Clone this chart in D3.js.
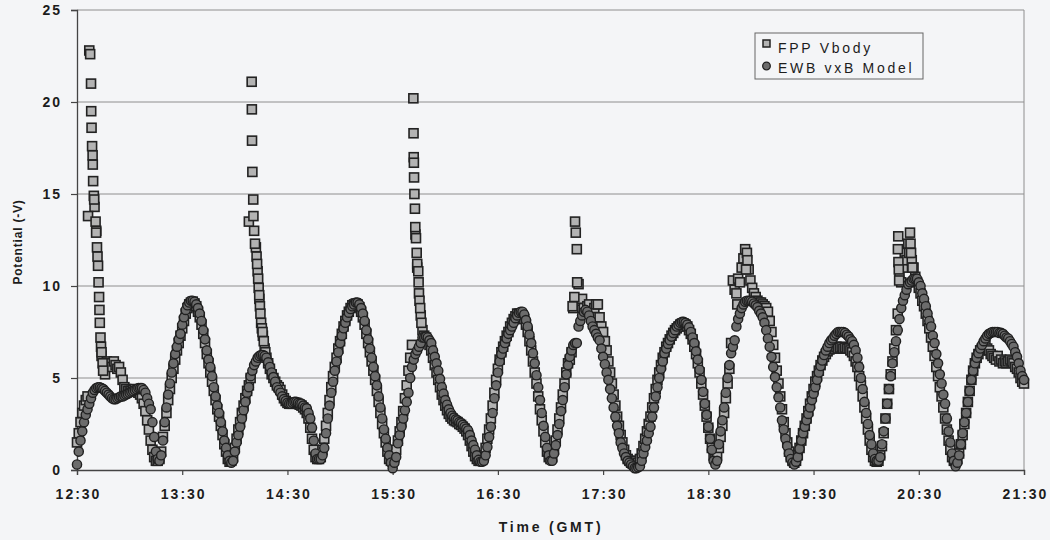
<!DOCTYPE html>
<html>
<head>
<meta charset="utf-8">
<script src="https://cdn.jsdelivr.net/npm/d3@7"></script>
<style>
  html, body { margin: 0; padding: 0; background: #f4f5f7; }
  svg { display: block; }
  text { font-family: "Liberation Sans", Arial, sans-serif; fill: #1c1c1c; }
</style>
</head>
<body>
<svg id="chart" width="1050" height="540"></svg>
<script>
// minutes after 12:30 GMT, one sample per minute
const tickMinutes = [0, 60, 120, 180, 240, 300, 360, 420, 480, 540]
const tickLabels = ['12:30', '13:30', '14:30', '15:30', '16:30', '17:30', '18:30', '19:30', '20:30', '21:30']
const yTicks = [0, 5, 10, 15, 20, 25]
const seriesNames = ['FPP Vbody', 'EWB vxB Model']

// EWB vxB Model, potential (-V)
const ewbValues = [
  0.3, 1.0, 1.6, 2.1, 2.6, 3.0, 3.3, 3.6, 3.9, 4.2,
  4.35, 4.45, 4.5, 4.5, 4.45, 4.4, 4.3, 4.2, 4.1, 4.0,
  3.9, 3.85, 3.85, 3.9, 3.95, 4.0, 4.0, 4.05, 4.1, 4.15,
  4.2, 4.25, 4.3, 4.35, 4.4, 4.45, 4.45, 4.45, 4.35, 4.2,
  3.9, 3.6, 3.3, 2.6, 1.8, 1.0, 0.6, 0.5, 0.8, 1.6,
  2.6, 3.4, 4.1, 4.7, 5.3, 5.8, 6.3, 6.7, 7.1, 7.4,
  7.9, 8.3, 8.7, 8.95, 9.1, 9.2, 9.2, 9.15, 9.0, 8.8,
  8.5, 8.1, 7.6, 7.1, 6.5, 6.0, 5.6, 5.1, 4.5, 4.0,
  3.5, 3.1, 2.6, 2.1, 1.6, 1.2, 0.8, 0.5, 0.4, 0.5,
  1.0, 1.5, 1.9, 2.35, 2.8, 3.25, 3.7, 4.2, 4.5, 5.1,
  5.4, 5.7, 5.9, 6.1, 6.2, 6.25, 6.25, 6.2, 6.1, 5.85,
  5.6, 5.3, 5.05, 4.8, 4.5, 4.35, 4.2, 4.0, 3.85, 3.75,
  3.65, 3.6, 3.6, 3.65, 3.7, 3.7, 3.65, 3.6, 3.6, 3.5,
  3.4, 3.35, 3.1, 2.8, 2.3, 1.6, 0.9, 0.6, 0.6, 0.6,
  0.8, 1.2, 2.0, 2.8, 3.5, 4.2, 4.8, 5.4, 5.9, 6.4,
  6.9, 7.3, 7.7, 8.0, 8.3, 8.55, 8.75, 8.9, 9.0, 9.1,
  9.1, 9.0, 8.8, 8.5, 8.1, 7.6, 7.1, 6.6, 6.1, 5.6,
  5.1, 4.6, 4.0, 3.4, 2.8, 2.2, 1.7, 1.2, 0.8, 0.4,
  0.1, 0.4, 0.7, 1.45, 1.9, 2.35, 2.8, 3.25, 3.7, 4.2,
  5.0, 5.6, 6.0, 6.3, 6.5, 6.7, 6.9, 7.2, 7.2, 7.25,
  7.2, 7.05, 6.9, 6.5, 6.15, 5.8, 5.4, 4.95, 4.5, 4.15,
  3.8, 3.55, 3.3, 3.1, 2.95, 2.85, 2.75, 2.7, 2.6, 2.55,
  2.45, 2.35, 2.25, 2.15, 1.9, 1.6, 1.35, 1.1, 0.8, 0.55,
  0.45, 0.45, 0.5, 0.8, 1.25, 1.8, 2.35, 3.1, 3.9, 4.6,
  5.3, 5.9, 6.3, 6.6, 6.9, 7.15, 7.4, 7.6, 7.8, 8.0,
  8.25, 8.4, 8.55, 8.6, 8.6, 8.45, 8.15, 7.8, 7.35, 6.9,
  6.35, 5.8, 5.15, 4.5, 3.8, 3.1, 2.4, 1.8, 1.2, 0.8,
  0.5, 0.5, 0.9, 1.35, 1.9, 2.5, 3.2, 3.8, 4.5, 5.2,
  5.7, 6.15, 6.5, 6.8, 6.9, 6.9, 7.8, 8.1, 8.4, 8.6,
  8.7, 8.6, 8.4, 8.1, 7.8, 7.6, 7.4, 7.2, 7.05, 6.6,
  6.15, 5.75, 5.3, 4.9, 4.4, 3.9, 3.4, 2.9, 2.4, 2.0,
  1.5, 1.2, 0.9, 0.7, 0.5, 0.4, 0.3, 0.2, 0.1, 0.1,
  0.15, 0.2, 0.5, 0.9, 1.25, 1.6, 2.0, 2.35, 2.9, 3.4,
  4.0, 4.5, 5.0, 5.5, 5.9, 6.35, 6.6, 6.85, 7.05, 7.25,
  7.45, 7.6, 7.8, 7.9, 8.0, 8.05, 8.05, 8.0, 7.9, 7.75,
  7.5, 7.2, 6.9, 6.45, 6.0, 5.45, 4.9, 4.25, 3.6, 3.0,
  2.35, 1.7, 1.1, 0.5, 0.3, 0.5, 1.4, 2.1, 2.7, 3.4,
  4.2, 5.0, 5.7, 6.35, 6.7, 7.05, 7.8, 8.2, 8.5, 8.8,
  9.0, 9.15, 9.2, 9.2, 9.2, 9.15, 9.05, 8.95, 8.85, 8.65,
  8.5, 8.3, 8.0, 7.6, 7.15, 6.7, 6.15, 5.6, 5.05, 4.5,
  3.95, 3.4, 2.7, 2.2, 1.7, 1.3, 0.9, 0.6, 0.4, 0.3,
  0.45, 0.7, 1.15, 1.6, 2.0, 2.35, 2.7, 3.05, 3.4, 3.8,
  4.15, 4.5, 4.9, 5.3, 5.65, 5.95, 6.25, 6.5, 6.7, 6.9,
  7.05, 7.15, 7.3, 7.4, 7.5, 7.5, 7.5, 7.5, 7.45, 7.35,
  7.25, 7.1, 7.0, 6.8, 6.5, 6.1, 5.6, 5.0, 4.4, 3.7,
  3.1, 2.5, 1.9, 1.4, 0.9, 0.6, 0.5, 0.5, 0.7, 1.4,
  2.1, 2.8, 3.6, 4.4, 5.1, 5.8, 6.4, 7.0, 7.6, 8.2,
  8.8, 9.2, 9.5, 9.8, 10.1, 10.2, 10.3, 10.4, 10.4, 10.4,
  10.2, 10.0, 9.6, 9.3, 8.9, 8.5, 8.1, 7.8, 7.3, 6.9,
  6.3, 5.8, 5.2, 4.7, 4.1, 3.6, 2.8, 2.1, 1.5, 0.9,
  0.5, 0.2, 0.4, 0.8, 1.4, 2.0, 2.6, 3.1, 3.7, 4.3,
  4.9, 5.4, 5.8, 6.1, 6.35, 6.6, 6.8, 7.0, 7.15, 7.3,
  7.4, 7.45, 7.5, 7.5, 7.5, 7.5, 7.45, 7.45, 7.4, 7.3,
  7.2, 7.15, 7.0, 6.85, 6.7, 6.4, 6.15, 5.8, 5.4, 5.1,
  4.9
]

// FPP Vbody, potential (-V)
const fppValues = [
  1.5, 2.0, 2.6, 3.1, 3.5, 3.8, 4.0, 22.8, 21.0, 16.6,
  14.3, 13.0, 11.1, 8.0, 6.2, 5.5, 5.2, 5.9, 5.7, 5.8,
  5.6, 5.9, 5.7, 5.5, 5.6, 5.3, 4.9, 4.5, 4.4, 4.3,
  4.3, 4.3, 4.35, 4.4, 4.3, 4.2, 4.1, 3.9, 3.6, 3.2,
  2.7, 2.2, 1.6, 1.1, 0.7, 0.5, 0.5, 0.6, 1.0, 1.8,
  2.4, 3.1, 3.8, 4.4, 5.0, 5.5, 6.0, 6.5, 6.9, 7.3,
  7.7, 8.1, 8.5, 8.8, 9.0, 9.1, 9.15, 9.05, 8.9, 8.6,
  8.3, 7.9, 7.4, 6.9, 6.3, 5.8, 5.3, 4.8, 4.3, 3.8,
  3.3, 2.9, 2.4, 1.9, 1.4, 1.0, 0.6, 0.45, 0.5, 0.7,
  1.2, 1.7, 2.2, 2.6, 3.1, 3.5, 3.9, 4.3, 4.6, 5.0,
  16.2, 13.0, 12.1, 10.8, 9.3, 8.0, 7.3, 6.6, 6.1, 5.8,
  5.5, 5.2, 5.0, 4.8, 4.6, 4.5, 4.35, 4.1, 3.9, 3.75,
  3.65, 3.6, 3.6, 3.6, 3.65, 3.65, 3.6, 3.55, 3.5, 3.4,
  3.3, 3.1, 2.8, 2.3, 1.7, 1.1, 0.7, 0.6, 0.6, 0.7,
  1.1, 1.7, 2.4, 3.1, 3.8, 4.5, 5.1, 5.6, 6.1, 6.6,
  7.0, 7.4, 7.8, 8.1, 8.4, 8.6, 8.8, 8.95, 9.0, 9.05,
  9.0, 8.85, 8.6, 8.3, 7.9, 7.4, 6.9, 6.4, 5.9, 5.4,
  4.9, 4.3, 3.7, 3.1, 2.5, 2.0, 1.5, 1.0, 0.6, 0.5,
  0.5, 0.7, 1.1, 1.6, 2.1, 2.6, 3.2, 3.9, 4.6, 5.4,
  6.1, 6.8, 17.0, 12.8, 11.0, 9.6, 8.4, 7.6, 7.3, 7.2,
  7.0, 6.8, 6.5, 6.1, 5.7, 5.3, 4.9, 4.5, 4.1, 3.8,
  3.5, 3.25, 3.05, 2.9, 2.8, 2.7, 2.65, 2.6, 2.5, 2.45,
  2.35, 2.25, 2.1, 1.9, 1.6, 1.3, 1.0, 0.75, 0.6, 0.5,
  0.5, 0.55, 0.8, 1.2, 1.7, 2.2, 2.8, 3.5, 4.2, 4.9,
  5.5, 6.0, 6.4, 6.7, 7.0, 7.3, 7.5, 7.8, 8.0, 8.2,
  8.35, 8.5, 8.5, 8.5, 8.4, 8.2, 7.9, 7.5, 7.0, 6.5,
  5.9, 5.3, 4.7, 4.0, 3.3, 2.7, 2.1, 1.5, 1.0, 0.7,
  0.6, 0.7, 1.1, 1.6, 2.2, 2.8, 3.4, 4.1, 4.7, 5.3,
  5.8, 6.0, 6.4, 8.8, 13.5, 12.0, 10.1, 9.2, 9.3, 8.8,
  8.5, 8.9, 9.0, 8.6, 8.5, 8.8, 9.0, 9.0, 8.3, 7.8,
  7.5, 7.0, 6.5, 5.9, 5.3, 4.7, 4.1, 3.5, 2.9, 2.4,
  1.9, 1.5, 1.1, 0.8, 0.6, 0.5, 0.4, 0.35, 0.4, 0.5,
  0.4, 0.6, 0.9, 1.3, 1.7, 2.1, 2.5, 2.9, 3.4, 3.9,
  4.4, 4.9, 5.3, 5.7, 6.1, 6.4, 6.7, 6.9, 7.1, 7.3,
  7.45, 7.6, 7.7, 7.8, 7.9, 7.95, 7.95, 7.9, 7.8, 7.6,
  7.4, 7.1, 6.7, 6.3, 5.8, 5.3, 4.7, 4.1, 3.5, 2.9,
  2.3, 1.7, 1.2, 0.8, 0.6, 0.8, 1.2, 1.8, 2.4, 3.1,
  3.9, 4.7, 5.5, 6.9, 10.3, 9.8, 9.6, 10.4, 10.2, 11.0,
  11.5, 12.0, 11.8, 10.9, 10.3, 9.9, 9.6, 9.4, 9.2, 9.1,
  9.1, 9.0, 8.9, 8.8, 8.6, 8.1, 7.5, 6.8, 6.1, 5.4,
  4.7, 4.0, 3.3, 2.6, 2.0, 1.5, 1.0, 0.7, 0.5, 0.4,
  0.5, 0.8, 1.2, 1.6, 2.0, 2.4, 2.8, 3.2, 3.6, 4.0,
  4.4, 4.8, 5.1, 5.4, 5.7, 5.95, 6.15, 6.3, 6.45, 6.55,
  6.6, 6.65, 6.6, 6.7, 6.6, 6.65, 6.7, 6.6, 6.65, 6.6,
  6.6, 6.5, 6.4, 6.2, 5.9, 5.6, 5.1, 4.6, 4.0, 3.4,
  2.8, 2.2, 1.6, 1.1, 0.7, 0.5, 0.45, 0.5, 0.8, 1.3,
  2.0, 2.8, 3.6, 4.4, 5.2, 5.9, 6.6, 7.6, 8.5, 10.5,
  10.2, 11.0, 11.8, 11.4, 12.3, 12.9, 11.4, 11.0, 10.5, 10.2,
  9.9, 9.6, 9.2, 8.9, 8.5, 8.1, 7.7, 7.2, 6.7, 6.2,
  5.6, 5.1, 4.5, 4.0, 3.4, 2.8, 2.2, 1.6, 1.1, 0.7,
  0.5, 0.5, 0.6, 0.9, 1.4, 1.9, 2.5, 3.1, 3.7, 4.3,
  4.9, 5.4, 5.8, 6.1, 6.3, 6.5, 6.6, 6.7, 6.8, 6.6,
  6.5, 6.3, 6.2, 6.1, 6.0, 6.2, 5.9, 6.0, 5.8, 5.9,
  5.8, 5.9, 6.0, 5.9, 5.8, 5.6, 5.5, 5.3, 5.0, 4.8,
  4.7
]

// extra FPP samples inside the fast spikes (minutes after 12:30, -V)
const fppExtraMinutes = [
  6.3, 7.5, 8.1, 8.3, 8.6, 8.9, 9.2, 9.6, 9.8, 10.6, 10.9, 11.4, 11.7, 12.3, 12.6, 12.8, 13.4, 13.7, 14.0, 14.6, 14.9,
  98.0, 99.6, 99.7, 99.8, 100.5, 100.6, 101.5, 102.4, 102.7, 103.3, 103.6, 103.9, 104.3, 104.6, 105.4, 105.8, 106.5, 107.4,
  191.8, 191.9, 192.1, 192.2, 192.4, 192.7, 192.9, 193.3, 193.7, 194.0, 194.6, 194.8, 195.3, 195.7, 196.4,
  282.6, 283.6, 284.4, 285.2,
  376.5, 381.5, 382.3,
  468.1, 468.3, 468.4, 468.6, 468.8, 474.5, 475.3, 475.6, 476.4
]
const fppExtraValues = [
  13.8, 22.6, 19.5, 18.6, 17.6, 17.1, 15.7, 14.9, 14.7, 13.5, 12.9, 12.1, 11.6, 10.2, 9.4, 8.7, 7.2, 6.7, 6.4, 5.8, 5.4,
  13.5, 21.1, 19.6, 17.9, 14.7, 13.8, 12.3, 11.6, 11.2, 10.4, 9.9, 9.5, 8.9, 8.5, 7.7, 7.5, 7.0, 6.4,
  20.2, 18.3, 16.7, 15.9, 15.0, 14.2, 13.2, 12.6, 11.8, 11.2, 10.8, 10.2, 9.2, 8.8, 8.0,
  8.9, 9.4, 12.9, 10.2,
  9.0, 10.9, 11.4,
  12.0, 12.7, 11.3, 10.9, 10.3, 11.8, 12.3, 11.8, 11.0
]

const margin = { top: 10, right: 26, bottom: 70, left: 77 }
const width = 1050
const height = 540
const plotLeft = margin.left
const plotRight = width - margin.right
const plotTop = margin.top
const plotBottom = height - margin.bottom

const xScale = d3.scaleLinear().domain([0, 540]).range([plotLeft, plotRight])
const yScale = d3.scaleLinear().domain([0, 25]).range([plotBottom, plotTop])

const svg = d3.select('#chart')

// gridlines
svg.append('g')
  .selectAll('line')
  .data(yTicks.filter(d => d > 0))
  .enter().append('line')
    .attr('x1', plotLeft)
    .attr('x2', plotRight)
    .attr('y1', d => yScale(d))
    .attr('y2', d => yScale(d))
    .attr('stroke', '#8e8e8e')
    .attr('stroke-width', 1)

svg.append('line')
  .attr('x1', plotRight).attr('x2', plotRight)
  .attr('y1', plotTop).attr('y2', plotBottom)
  .attr('stroke', '#8e8e8e')

// axes
const yAxis = d3.axisLeft(yScale).tickValues(yTicks).tickSize(6).tickPadding(9).tickFormat(d3.format('d'))
const xAxis = d3.axisBottom(xScale).tickValues(tickMinutes).tickSize(5).tickPadding(14)
  .tickFormat((d, i) => tickLabels[i])

const gy = svg.append('g').attr('transform', `translate(${plotLeft}, 0)`).call(yAxis)
const gx = svg.append('g').attr('transform', `translate(0, ${plotBottom})`).call(xAxis)

for (const g of [gx, gy]) {
  g.select('.domain').attr('stroke', '#444').attr('stroke-width', 1.3)
  g.selectAll('.tick line').attr('stroke', '#444').attr('stroke-width', 1.2)
  g.selectAll('.tick text')
    .attr('fill', '#1c1c1c')
    .style('font-family', '"Liberation Sans", Arial, sans-serif')
    .style('font-size', '14px')
    .style('font-weight', 'bold')
    .style('letter-spacing', '2px')
}
gx.selectAll('.tick text').attr('dx', '1px')

// axis titles
svg.append('text')
  .attr('x', 551)
  .attr('y', 532)
  .attr('text-anchor', 'middle')
  .style('font-size', '14px')
  .style('font-weight', 'bold')
  .style('letter-spacing', '2.8px')
  .text('Time (GMT)')

svg.append('text')
  .attr('transform', 'translate(22, 242) rotate(-90)')
  .attr('text-anchor', 'middle')
  .style('font-size', '12px')
  .style('font-weight', 'bold')
  .style('letter-spacing', '0.8px')
  .text('Potential (-V)')

// data
const fppPoints = fppValues.map((v, i) => [i, v])
  .concat(fppExtraMinutes.map((m, i) => [m, fppExtraValues[i]]))
const ewbPoints = ewbValues.map((v, i) => [i, v])

const sq = 9
svg.append('g')
  .selectAll('rect')
  .data(fppPoints)
  .enter().append('rect')
    .attr('x', d => xScale(d[0]) - sq / 2)
    .attr('y', d => yScale(d[1]) - sq / 2)
    .attr('width', sq)
    .attr('height', sq)
    .attr('fill', '#b3b3b3')
    .attr('stroke', '#222')
    .attr('stroke-width', 1.6)

svg.append('g')
  .selectAll('circle')
  .data(ewbPoints)
  .enter().append('circle')
    .attr('cx', d => xScale(d[0]))
    .attr('cy', d => yScale(d[1]))
    .attr('r', 4.6)
    .attr('fill', '#6c6c6c')
    .attr('stroke', '#202020')
    .attr('stroke-width', 1.4)

// legend
const legend = svg.append('g')
legend.append('rect')
  .attr('x', 755).attr('y', 33)
  .attr('width', 168).attr('height', 46)
  .attr('fill', 'none')
  .attr('stroke', '#666')
legend.append('rect')
  .attr('x', 763).attr('y', 40)
  .attr('width', 7).attr('height', 7)
  .attr('fill', '#b3b3b3').attr('stroke', '#222').attr('stroke-width', 1.5)
legend.append('circle')
  .attr('cx', 766.5).attr('cy', 66)
  .attr('r', 3.8)
  .attr('fill', '#6c6c6c').attr('stroke', '#202020').attr('stroke-width', 1.3)
legend.selectAll('text.item')
  .data(seriesNames)
  .enter().append('text')
    .attr('class', 'item')
    .attr('x', 778)
    .attr('y', (d, i) => 53 + i * 20)
    .style('font-size', '14px')
    .style('letter-spacing', '2.7px')
    .text(d => d)
</script>
</body>
</html>
